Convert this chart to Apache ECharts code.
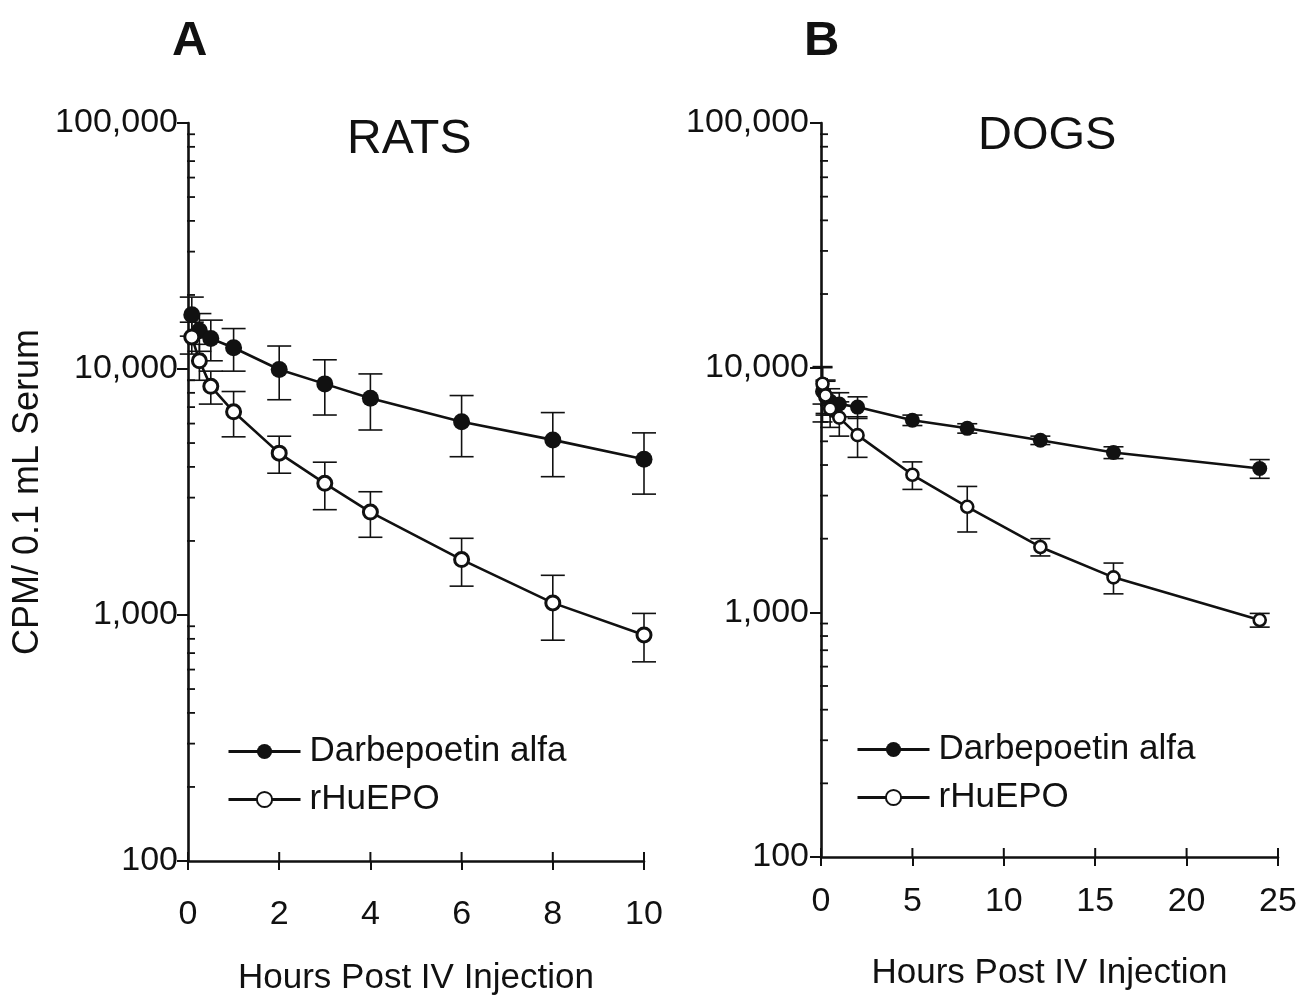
<!DOCTYPE html>
<html>
<head>
<meta charset="utf-8">
<script src="https://cdn.jsdelivr.net/npm/echarts@6/dist/echarts.min.js"></script>
<style>
  html, body { margin: 0; padding: 0; background: #fff; }
  #chart { width: 1306px; height: 999px; }
</style>
</head>
<body>
<div id="chart"></div>
<script>
// Panel A — rats
const ratHours   = [0.083, 0.25, 0.5, 1, 2, 3, 4, 6, 8, 10];
const ratDarbe   = [16600, 14300, 13300, 12200, 9950, 8700, 7600, 6100, 5150, 4300];
const ratDarbeSD = [3000, 2500, 2500, 2400, 2450, 2200, 1950, 1700, 1500, 1200];
const ratEpo     = [13500, 10800, 8500, 6700, 4550, 3430, 2620, 1680, 1120, 830];
const ratEpoSD   = [2000, 1800, 1300, 1400, 780, 750, 550, 370, 330, 185];

// Panel B — dogs
const dogHours   = [0.083, 0.25, 0.5, 1, 2, 5, 8, 12, 16, 24];
const dogDarbe   = [8000, 7600, 7300, 7100, 6900, 6100, 5650, 5050, 4500, 3870];
const dogDarbeSD = [2000, 1200, 900, 800, 700, 300, 250, 200, 250, 340];
const dogEpo     = [8600, 7700, 6800, 6250, 5300, 3650, 2700, 1850, 1390, 930];
const dogEpoSD   = [1500, 1200, 1100, 1000, 1000, 470, 570, 150, 200, 60];

// Axis ticks
const ratHourTicks = [0, 2, 4, 6, 8, 10];
const dogHourTicks = [0, 5, 10, 15, 20, 25];
const countMinorTicks = [200, 300, 400, 500, 600, 700, 800, 900,
                         2000, 3000, 4000, 5000, 6000, 7000, 8000, 9000,
                         20000, 30000, 40000, 50000, 60000, 70000, 80000, 90000];

const seriesNames = ['Darbepoetin alfa', 'rHuEPO'];
const FONT = "'Liberation Sans', Arial, Helvetica, sans-serif";
const INK = '#111';

const zip = (xs, ys) => xs.map((x, i) => [x, ys[i]]);
const zip3 = (xs, ys, es) => xs.map((x, i) => [x, ys[i], es[i]]);

function errorBars(capHalf) {
  return function (params, api) {
    const x = api.value(0), y = api.value(1), sd = api.value(2);
    const top = api.coord([x, y + sd]);
    const bot = api.coord([x, Math.max(y - sd, 101)]);
    const style = { stroke: INK, lineWidth: 1.6 };
    return {
      type: 'group',
      children: [
        { type: 'line', shape: { x1: top[0], y1: top[1], x2: bot[0], y2: bot[1] }, style },
        { type: 'line', shape: { x1: top[0] - capHalf, y1: top[1], x2: top[0] + capHalf, y2: top[1] }, style },
        { type: 'line', shape: { x1: bot[0] - capHalf, y1: bot[1], x2: bot[0] + capHalf, y2: bot[1] }, style }
      ]
    };
  };
}

// minor log ticks on the y axis (pointing into the plot)
function yMinorTicks(params, api) {
  const p = api.coord([api.value(0), api.value(1)]);
  return { type: 'line', shape: { x1: p[0] - 1, y1: p[1], x2: p[0] + 7, y2: p[1] },
           style: { stroke: INK, lineWidth: 1.8 } };
}
// upper half of the crossing x ticks
function xInnerTicks(params, api) {
  const p = api.coord([api.value(0), api.value(1)]);
  return { type: 'line', shape: { x1: p[0], y1: p[1], x2: p[0], y2: p[1] - 9 },
           style: { stroke: INK, lineWidth: 2 } };
}

function xAxisFor(gridIndex, max, interval, margin, gap) {
  return {
    gridIndex, type: 'value', min: 0, max, interval,
    name: 'Hours Post IV Injection', nameLocation: 'middle', nameGap: gap,
    nameTextStyle: { fontFamily: FONT, fontSize: 35, color: INK },
    axisLine: { lineStyle: { color: INK, width: 2.6 } },
    axisTick: { length: 9, lineStyle: { color: INK, width: 2 } },
    axisLabel: { fontFamily: FONT, fontSize: 34, color: INK, margin },
    splitLine: { show: false }
  };
}
function yAxisFor(gridIndex, withName, margin) {
  const ax = {
    gridIndex, type: 'log', logBase: 10, min: 100, max: 100000,
    axisLine: { lineStyle: { color: INK, width: 2.6 } },
    axisTick: { length: 11, lineStyle: { color: INK, width: 2 } },
    axisLabel: {
      fontFamily: FONT, fontSize: 34, color: INK, margin,
      formatter: v => Math.round(v).toLocaleString('en-US')
    },
    splitLine: { show: false }
  };
  if (withName) {
    Object.assign(ax, {
      name: 'CPM/ 0.1 mL Serum', nameLocation: 'middle', nameGap: 142, nameRotate: 90,
      nameTextStyle: { fontFamily: FONT, fontSize: 36, color: INK }
    });
  }
  return ax;
}

function lineSeries(name, axisIdx, data, filled, size, border) {
  return {
    name, type: 'line', xAxisIndex: axisIdx, yAxisIndex: axisIdx,
    data, symbol: 'circle', symbolSize: size, z: 5,
    lineStyle: { color: INK, width: 2.6 },
    itemStyle: filled
      ? { color: INK, borderColor: INK, borderWidth: 0 }
      : { color: '#fff', borderColor: INK, borderWidth: border },
    emphasis: { disabled: true },
    animation: false
  };
}
function barSeries(axisIdx, data, capHalf) {
  return {
    type: 'custom', xAxisIndex: axisIdx, yAxisIndex: axisIdx,
    renderItem: errorBars(capHalf), data, encode: { x: 0, y: 1 }, z: 3, animation: false
  };
}
function decorSeries(axisIdx, data, fn) {
  return {
    type: 'custom', xAxisIndex: axisIdx, yAxisIndex: axisIdx,
    renderItem: fn, data, encode: { x: 0, y: 1 }, z: 2, silent: true, clip: false, animation: false
  };
}

function legendAt(left, top) {
  return {
    left, top, orient: 'vertical', data: seriesNames,
    itemWidth: 72, itemHeight: 19, itemGap: 13, selectedMode: false,
    lineStyle: { width: 3, color: INK },
    textStyle: { fontFamily: FONT, fontSize: 35, color: INK, padding: [0, 0, 0, 4] }
  };
}

const option = {
  backgroundColor: '#fff',
  animation: false,
  grid: [
    { left: 188, top: 123, width: 456, height: 738, containLabel: false, outerBoundsMode: 'none' },
    { left: 821, top: 123, width: 457, height: 734, containLabel: false, outerBoundsMode: 'none' }
  ],
  xAxis: [xAxisFor(0, 10, 2, 37, 100), xAxisFor(1, 25, 5, 28, 99)],
  yAxis: [yAxisFor(0, true, 10), yAxisFor(1, false, 12)],
  legend: [legendAt(222, 729), legendAt(851, 727)],
  graphic: [
    { type: 'text', left: 172, top: 17, style: { text: 'A', fontFamily: FONT, fontSize: 49, fontWeight: 'bold', fill: INK } },
    { type: 'text', left: 804, top: 17, style: { text: 'B', fontFamily: FONT, fontSize: 49, fontWeight: 'bold', fill: INK } },
    { type: 'text', left: 347, top: 116, style: { text: 'RATS', fontFamily: FONT, fontSize: 48, fill: INK } },
    { type: 'text', left: 978, top: 113, style: { text: 'DOGS', fontFamily: FONT, fontSize: 47, fill: INK } }
  ],
  series: [
    decorSeries(0, countMinorTicks.map(v => [0, v]), yMinorTicks),
    decorSeries(1, countMinorTicks.map(v => [0, v]), yMinorTicks),
    decorSeries(0, ratHourTicks.map(t => [t, 100]), xInnerTicks),
    decorSeries(1, dogHourTicks.map(t => [t, 100]), xInnerTicks),

    barSeries(0, zip3(ratHours, ratDarbe, ratDarbeSD), 12),
    barSeries(0, zip3(ratHours, ratEpo, ratEpoSD), 12),
    barSeries(1, zip3(dogHours, dogDarbe, dogDarbeSD), 10),
    barSeries(1, zip3(dogHours, dogEpo, dogEpoSD), 10),

    lineSeries(seriesNames[0], 0, zip(ratHours, ratDarbe), true, 17, 0),
    lineSeries(seriesNames[1], 0, zip(ratHours, ratEpo), false, 14, 3),
    lineSeries(seriesNames[0], 1, zip(dogHours, dogDarbe), true, 15, 0),
    lineSeries(seriesNames[1], 1, zip(dogHours, dogEpo), false, 12, 2.6)
  ]
};

const chart = echarts.init(document.getElementById('chart'), null, { renderer: 'canvas' });
chart.setOption(option);
</script>
</body>
</html>
